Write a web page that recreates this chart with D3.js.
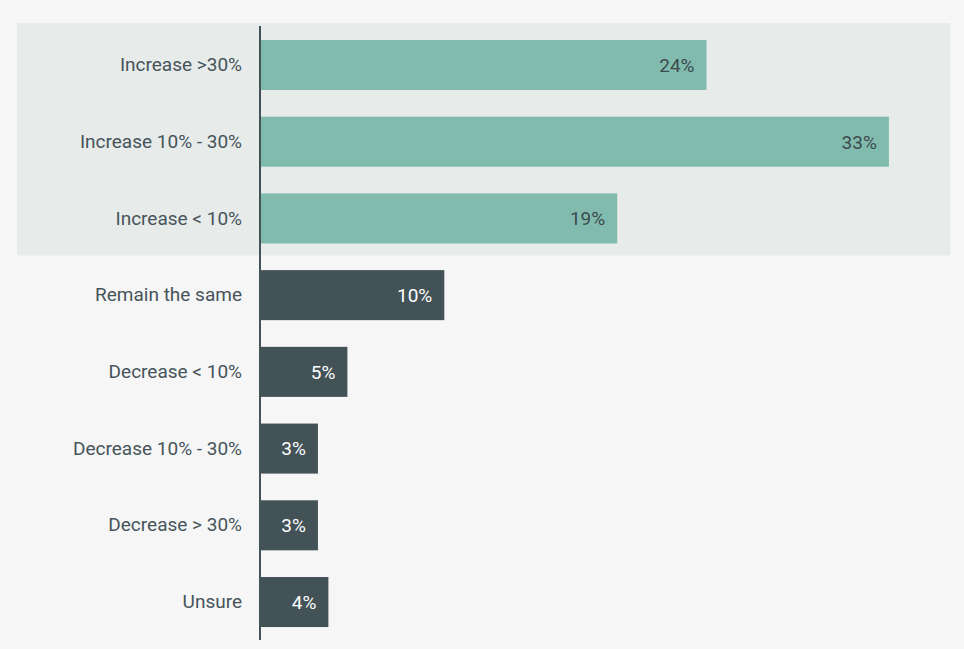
<!DOCTYPE html>
<html>
<head>
<meta charset="utf-8">
<script src="https://cdn.jsdelivr.net/npm/d3@7"></script>
<style>
  html, body { margin: 0; padding: 0; background: #f6f6f6; }
  svg { display: block; }
  text { font-family: Roboto, "Noto Sans", sans-serif; }
</style>
</head>
<body>
<svg id="chart"></svg>
<script>
// survey answers, top to bottom
const categories = [
  "Increase >30%",
  "Increase 10% - 30%",
  "Increase < 10%",
  "Remain the same",
  "Decrease < 10%",
  "Decrease 10% - 30%",
  "Decrease > 30%",
  "Unsure"
];
// share of respondents (%)
const values = [23.5, 33.1, 18.8, 9.7, 4.6, 3.05, 3.05, 3.6];
// first three rows are the "increase" group
const increaseCount = 3;

const width = 964;
const height = 649;
const svg = d3.select("#chart")
  .attr("width", width)
  .attr("height", height);

const data = categories.map((c, i) => ({ cat: c, value: values[i], up: i < increaseCount }));

const x = d3.scaleLinear().domain([0, 35]).range([260, 260 + 19 * 35]);
const y = d3.scaleBand()
  .domain(categories)
  .range([26.6, 640.4])
  .paddingInner(0.348)
  .paddingOuter(0.174);

// shaded band behind the increase rows
const bandTop = y(categories[0]) - 17;
const bandBottom = y(categories[increaseCount - 1]) + y.bandwidth() + 12;
svg.append("rect")
  .attr("x", 17)
  .attr("y", bandTop)
  .attr("width", 933)
  .attr("height", bandBottom - bandTop)
  .attr("fill", "#e7ebea");

// bars
svg.append("g")
  .selectAll("rect")
  .data(data)
  .enter().append("rect")
    .attr("x", x(0))
    .attr("y", d => y(d.cat))
    .attr("width", d => x(d.value) - x(0))
    .attr("height", y.bandwidth())
    .attr("fill", d => d.up ? "#81bbad" : "#435257");

// value labels inside the bar ends
svg.append("g")
  .selectAll("text")
  .data(data)
  .enter().append("text")
    .attr("x", d => x(d.value) - 12)
    .attr("y", d => y(d.cat) + y.bandwidth() / 2)
    .attr("dy", "0.36em")
    .attr("text-anchor", "end")
    .attr("font-size", 19)
    .attr("fill", d => d.up ? "#3d4a4f" : "#ffffff")
    .text(d => d3.format(".0f")(d.value) + "%");

// category axis
const axis = d3.axisLeft(y).tickSize(0).tickPadding(18);
const gAxis = svg.append("g")
  .attr("transform", `translate(${x(0)},0)`)
  .call(axis);
gAxis.select(".domain").remove();
gAxis.selectAll("text")
  .attr("font-size", 19)
  .attr("fill", "#46545a")
  .style("font-family", "Roboto, 'Noto Sans', sans-serif");

svg.append("line")
  .attr("x1", x(0)).attr("x2", x(0))
  .attr("y1", 26).attr("y2", 640)
  .attr("stroke", "#435257")
  .attr("stroke-width", 2);
</script>
</body>
</html>
